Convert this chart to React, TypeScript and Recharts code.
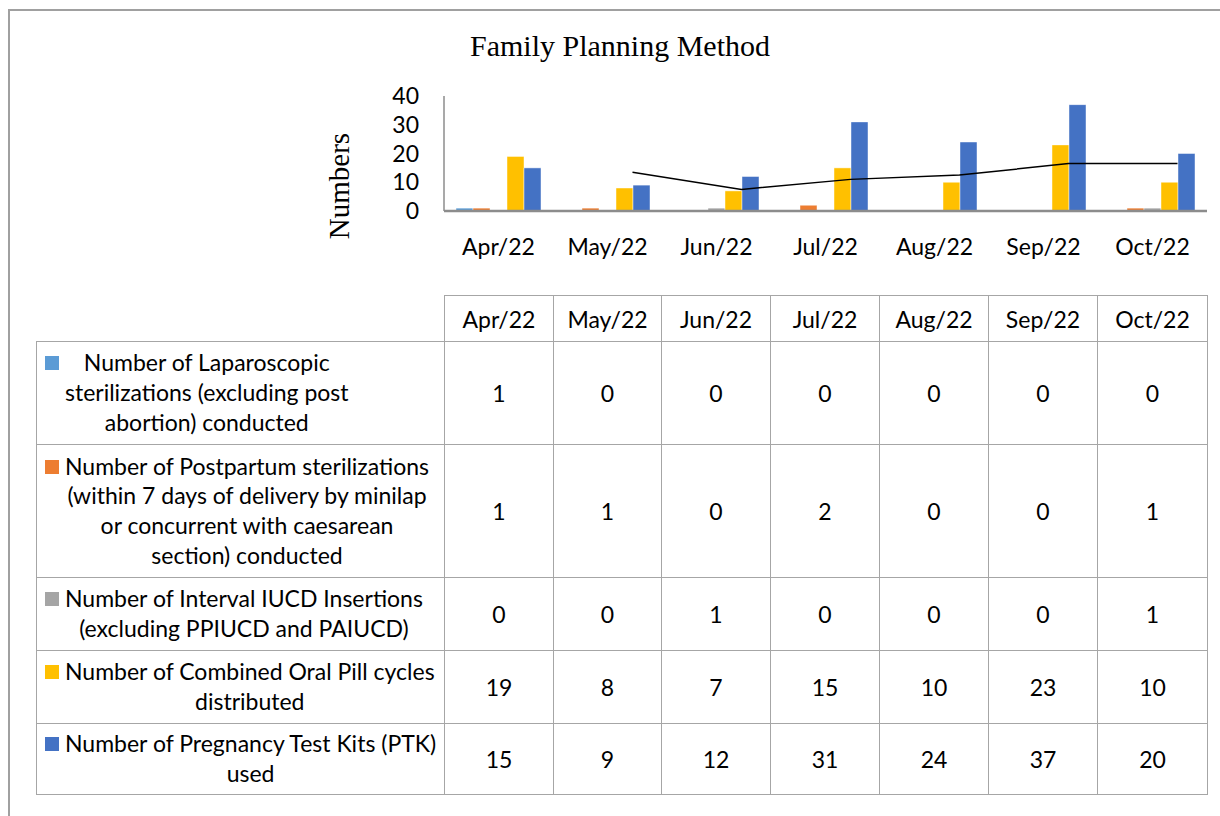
import React from 'react';
import { ComposedChart, Bar, Line, XAxis, YAxis } from 'recharts';

// Family Planning Method — grouped bars with an Excel-style data table underneath

const months = ['Apr/22', 'May/22', 'Jun/22', 'Jul/22', 'Aug/22', 'Sep/22', 'Oct/22'];
const laparoscopic = [1, 0, 0, 0, 0, 0, 0];
const postpartum = [1, 1, 0, 2, 0, 0, 1];
const iucd = [0, 0, 1, 0, 0, 0, 1];
const oralPill = [19, 8, 7, 15, 10, 23, 10];
const ptk = [15, 9, 12, 31, 24, 37, 20];
// trend line as drawn over the oral pill bars
const trend = [null, 13.5, 7.5, 11, 12.5, 16.5, 16.5];
const yTicks = [0, 10, 20, 30, 40];

const seriesKeys = ['laparoscopic', 'postpartum', 'iucd', 'oralPill', 'ptk'];
const seriesColors = ['#5B9BD5', '#ED7D31', '#A5A5A5', '#FFC000', '#4472C4'];
const seriesLines = [
  ['Number of Laparoscopic', 'sterilizations (excluding post', 'abortion) conducted'],
  ['Number of Postpartum sterilizations', '(within 7 days of delivery by minilap', 'or concurrent with caesarean', 'section) conducted'],
  ['Number of Interval IUCD Insertions', '(excluding PPIUCD and PAIUCD)'],
  ['Number of Combined Oral Pill cycles', 'distributed'],
  ['Number of Pregnancy Test Kits (PTK)', 'used'],
];
const seriesValues = [laparoscopic, postpartum, iucd, oralPill, ptk];

const data = months.map((m, i) => ({
  month: m,
  laparoscopic: laparoscopic[i],
  postpartum: postpartum[i],
  iucd: iucd[i],
  oralPill: oralPill[i],
  ptk: ptk[i],
  trend: trend[i],
}));

const FONT = 'Lato, "Open Sans", sans-serif';
const SERIF = '"Liberation Serif", "DejaVu Serif", serif';
const GRID = '1.5px solid #a6a6a6';
const FS = 23;
const rowHeights = [103, 133, 73, 73, 71];
const colWidths = [109, 108, 109, 109, 109, 109, 110];

export default function App() {
  return (
    <div
      style={{
        position: 'relative',
        width: 1220,
        height: 816,
        overflow: 'hidden',
        background: '#fff',
        fontFamily: FONT,
        color: '#000',
      }}
    >
      <style>{'html,body{margin:0;padding:0;overflow:hidden;}'}</style>
      <div
        style={{
          position: 'absolute',
          left: 8,
          top: 9,
          width: 1300,
          height: 900,
          borderLeft: '2px solid #a0a0a0',
          borderTop: '2px solid #a0a0a0',
        }}
      />

      <div
        style={{
          position: 'absolute',
          left: 420,
          top: 31,
          width: 400,
          textAlign: 'center',
          fontFamily: SERIF,
          fontSize: 30,
          lineHeight: '30px',
          whiteSpace: 'nowrap',
        }}
      >
        Family Planning Method
      </div>

      <div
        style={{
          position: 'absolute',
          left: 339,
          top: 186,
          transform: 'translate(-50%, -50%) rotate(-90deg)',
          fontFamily: SERIF,
          fontSize: 29,
          lineHeight: '29px',
          whiteSpace: 'nowrap',
        }}
      >
        Numbers
      </div>

      <div style={{ position: 'absolute', left: 0, top: 0 }}>
        <ComposedChart
          width={1220}
          height={290}
          data={data}
          margin={{ top: 96, right: 13, bottom: 0, left: 0 }}
          barGap={0}
          barSize={17}
        >
          <XAxis
            dataKey="month"
            height={79}
            tickSize={0}
            tickMargin={28}
            axisLine={{ stroke: '#8c8c8c', strokeWidth: 2.5 }}
            tick={{ fontSize: FS, fill: '#000', fontFamily: FONT }}
            interval={0}
          />
          <XAxis
            xAxisId="trend"
            dataKey="month"
            hide
            padding={{ left: 25, right: -25 }}
          />
          <YAxis
            width={444}
            domain={[0, 40]}
            ticks={yTicks}
            interval={0}
            tickSize={0}
            tickMargin={25}
            axisLine={{ stroke: '#8c8c8c', strokeWidth: 1.5 }}
            tick={{ fontSize: FS, fill: '#000', fontFamily: FONT }}
          />
          {seriesKeys.map((k, i) => (
            <Bar
              key={k}
              dataKey={k}
              fill={seriesColors[i]}
              stroke="#ffffff"
              strokeOpacity={0.45}
              strokeWidth={1}
              isAnimationActive={false}
            />
          ))}
          <Line
            xAxisId="trend"
            dataKey="trend"
            stroke="#000"
            strokeWidth={1.5}
            dot={false}
            activeDot={false}
            isAnimationActive={false}
            connectNulls
          />
        </ComposedChart>
      </div>

      <table
        style={{
          position: 'absolute',
          left: 36,
          top: 295,
          borderCollapse: 'collapse',
          tableLayout: 'fixed',
          fontSize: FS,
          fontFamily: FONT,
        }}
      >
        <colgroup>
          <col style={{ width: 408 }} />
          {colWidths.map((w, i) => (
            <col key={i} style={{ width: w }} />
          ))}
        </colgroup>
        <tbody>
          <tr style={{ height: 46 }}>
            <td style={{ borderRight: GRID, padding: 0 }} />
            {months.map((m) => (
              <td key={m} style={{ border: GRID, textAlign: 'center', padding: 0 }}>
                {m}
              </td>
            ))}
          </tr>
          {seriesLines.map((lines, r) => (
            <tr key={r} style={{ height: rowHeights[r] }}>
              <td style={{ border: GRID, padding: '0 0 0 8px', verticalAlign: 'middle' }}>
                <div style={{ display: 'flex', alignItems: 'flex-start' }}>
                  <span
                    style={{
                      display: 'inline-block',
                      width: 14,
                      height: 14,
                      marginTop: 8,
                      marginRight: 6,
                      background: seriesColors[r],
                      flex: 'none',
                    }}
                  />
                  <div style={{ textAlign: 'center', lineHeight: '29.7px', whiteSpace: 'nowrap' }}>
                    {lines.map((l, j) => (
                      <div key={j}>{l}</div>
                    ))}
                  </div>
                </div>
              </td>
              {seriesValues[r].map((v, c) => (
                <td key={c} style={{ border: GRID, textAlign: 'center', padding: 0 }}>
                  {v}
                </td>
              ))}
            </tr>
          ))}
        </tbody>
      </table>
    </div>
  );
}
